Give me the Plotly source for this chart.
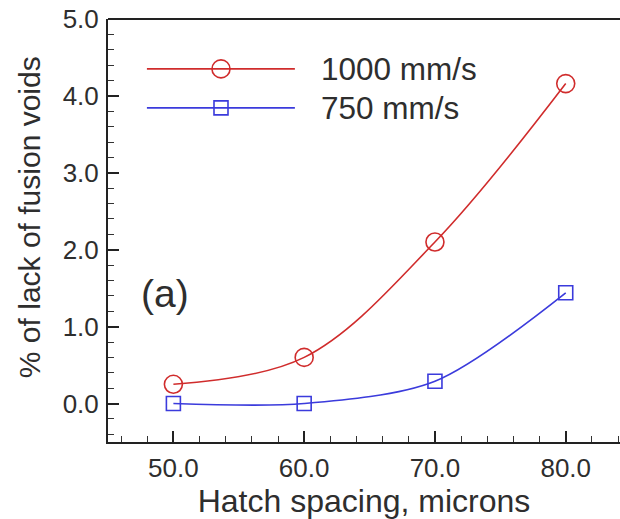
import plotly.graph_objects as go

# Data
hatch_spacing = [50.0, 60.0, 70.0, 80.0]
voids_1000 = [0.25, 0.60, 2.10, 4.16]
voids_750 = [0.00, 0.00, 0.29, 1.44]
series_names = ["1000 mm/s", "750 mm/s"]
x_tick_vals = [50, 60, 70, 80]
x_tick_text = ["50.0", "60.0", "70.0", "80.0"]
y_tick_vals = [0, 1, 2, 3, 4, 5]
y_tick_text = ["0.0", "1.0", "2.0", "3.0", "4.0", "5.0"]

RED = "#d02c2c"
BLUE = "#3b3bdc"
TXT = "#2e2e2e"
FONT = "Liberation Sans, Arial, sans-serif"

fig = go.Figure()
fig.add_trace(go.Scatter(
    x=hatch_spacing, y=voids_1000, name=series_names[0],
    mode="lines+markers",
    line=dict(color=RED, width=1.6, shape="spline", smoothing=1.0),
    marker=dict(symbol="circle-open", size=18, color=RED, line=dict(width=1.6)),
    showlegend=False,
))
fig.add_trace(go.Scatter(
    x=hatch_spacing, y=voids_750, name=series_names[1],
    mode="lines+markers",
    line=dict(color=BLUE, width=1.6, shape="spline", smoothing=0.85),
    marker=dict(symbol="square-open", size=14, color=BLUE, line=dict(width=1.6)),
    showlegend=False,
))

# Manual legend (long sample lines as in the reference)
legend_items = [(series_names[0], RED, "circle", 0.882), (series_names[1], BLUE, "rect", 0.790)]
shapes = []
annotations = []
for name, col, kind, yp in legend_items:
    shapes.append(dict(type="line", xref="paper", yref="paper", x0=0.076, x1=0.365, y0=yp, y1=yp,
                       line=dict(color=col, width=1.6)))
    r = 9 if kind == "circle" else 7
    shapes.append(dict(type=kind, xref="paper", yref="paper", xsizemode="pixel", ysizemode="pixel",
                       xanchor=0.2207, yanchor=yp, x0=-r, x1=r, y0=-r, y1=r,
                       line=dict(color=col, width=1.6)))
    annotations.append(dict(text=name, xref="paper", yref="paper", x=0.413, y=yp,
                            xanchor="left", yanchor="middle", showarrow=False,
                            font=dict(size=31.5, color=TXT, family=FONT)))

annotations.append(dict(text="(a)", xref="paper", yref="paper", x=0.111, y=0.350,
                        xanchor="center", yanchor="middle", showarrow=False,
                        font=dict(size=39, color=TXT, family=FONT)))

annotations.append(dict(text="% of lack of fusion voids", xref="paper", yref="paper",
                        x=-0.152, y=0.532, xanchor="center", yanchor="middle",
                        textangle=-90, showarrow=False,
                        font=dict(size=30, color=TXT, family=FONT)))

# top frame line only (no right frame in the reference)
shapes.append(dict(type="line", xref="paper", yref="paper", x0=0, x1=1, y0=1, y1=1,
                   line=dict(color="#222", width=2)))

fig.update_layout(
    width=620, height=519,
    margin=dict(l=108, r=0, t=19, b=77),
    paper_bgcolor="white", plot_bgcolor="white",
    font=dict(family=FONT, color=TXT),
    shapes=shapes, annotations=annotations,
)
fig.update_xaxes(
    range=[45, 84.15], tickvals=x_tick_vals, ticktext=x_tick_text,
    ticks="inside", ticklen=11, tickwidth=2, tickcolor="#222",
    minor=dict(ticks="inside", dtick=2, tick0=0, ticklen=6, tickwidth=1.2, tickcolor="#333", showgrid=False),
    showline=True, linecolor="#222", linewidth=2, mirror=False,
    showgrid=False, zeroline=False,
    tickfont=dict(size=26, color=TXT, family=FONT), ticklabelstandoff=2,
    title=dict(text="Hatch spacing, microns", font=dict(size=32, color=TXT, family=FONT), standoff=3),
)
fig.update_yaxes(
    range=[-0.5, 5.0], tickvals=y_tick_vals, ticktext=y_tick_text,
    ticks="inside", ticklen=11, tickwidth=2, tickcolor="#222",
    minor=dict(ticks="inside", dtick=0.2, ticklen=6, tickwidth=1.2, tickcolor="#333", showgrid=False),
    showline=True, linecolor="#222", linewidth=2, mirror=False,
    showgrid=False, zeroline=False,
    tickfont=dict(size=26, color=TXT, family=FONT), ticklabelstandoff=2,
)

fig.write_html("out.html", config={"displayModeBar": False})
